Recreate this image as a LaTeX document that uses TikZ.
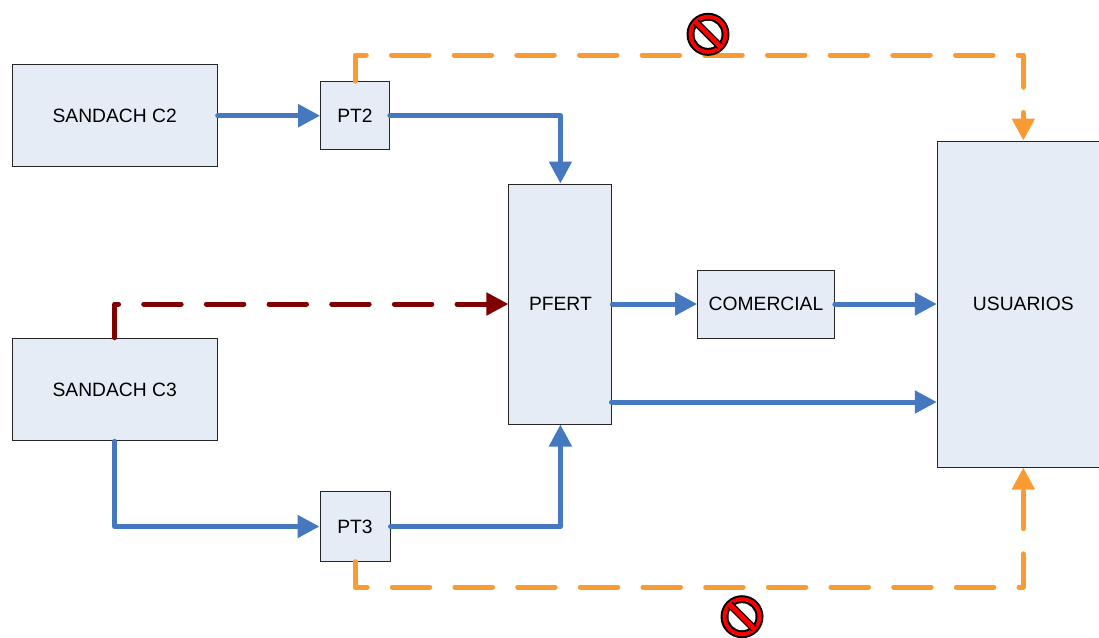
\documentclass[tikz,border=0pt]{standalone}
\usepackage{fontspec}
\setmainfont{Liberation Sans}
\usetikzlibrary{arrows.meta}

\definecolor{cajafondo}{RGB}{230,236,246}
\definecolor{azul}{RGB}{70,120,192}
\definecolor{naranja}{RGB}{250,154,51}
\definecolor{granate}{RGB}{128,0,0}

\tikzset{every picture/.style={line width=0.75pt}}
\tikzset{
	caja/.style={draw=black!85,fill=cajafondo,inner sep=0pt,font=\fontsize{14.45}{17}\selectfont},
	flujo/.style={line width=3.75pt,line cap=round,line join=round,-{Triangle[length=16.5pt,width=16.5pt]}},
	cortado/.style={flujo,dash pattern=on 28.1pt off 18.9pt},
	prohibido/.pic={
		\fill [black] (0,0) circle (21.5);
		\fill [red] (0,0) circle (19.5);
		\fill [black] (0,0) circle (15.5);
		\fill [white] (0,0) circle (13.5);
		\draw [black,line width=5.6pt] (-12,12) -- (12,-12);
		\draw [red,line width=3.6pt] (-13,13) -- (13,-13);
	}
}

\begin{document}
\begin{tikzpicture}[x=0.75pt,y=0.75pt,yscale=-1,xscale=1]
		\clip (0,0) rectangle (1099,637);

		% Boxes
		\node [caja,minimum width=153.75pt,minimum height=76.5pt] (sandachdos) at (114.7,115.7) {SANDACH C2};
		\node [caja,minimum width=153.75pt,minimum height=77pt] (sandachtres) at (114.7,389.5) {SANDACH C3};
		\node [caja,minimum width=51.5pt,minimum height=51pt] (ptdos) at (355,115.7) {PT2};
		\node [caja,minimum width=52.5pt,minimum height=52pt] (pttres) at (355,526.5) {PT3};
		\node [caja,minimum width=77.25pt,minimum height=180pt] (pfert) at (560.4,304) {PFERT};
		\node [caja,minimum width=102.5pt,minimum height=51pt] (comercial) at (766,304) {COMERCIAL};
		\node [caja,minimum width=129pt,minimum height=244.5pt] (usuarios) at (1023.3,304) {USUARIOS};

		% Free ends
		\coordinate (pfertsal) at (611.5,402);
		\coordinate (arriba) at (708,55);
		\coordinate (abajo) at (708,587);

		% Blue lines
		\draw [flujo,azul] (sandachdos) -- (ptdos);
		\draw [flujo,azul] (ptdos.east) -| (pfert.north);
		\draw [flujo,azul] (sandachtres.south) |- (pttres.west);
		\draw [flujo,azul] (pttres.east) -| (pfert.south);
		\draw [flujo,azul] (pfert.east) -- (comercial.west);
		\draw [flujo,azul] (comercial.east) -- (comercial.east -| usuarios.west);
		\draw [flujo,azul] (pfertsal) -- (pfertsal -| usuarios.west);

		% Dashed lines
		\draw [cortado,granate] (sandachtres.north) |- (pfert.west);
		\draw [cortado,naranja] (ptdos.north) |- (arriba) -| (usuarios.north);
		\draw [cortado,naranja] (pttres.south) |- (abajo) -| (usuarios.south);

		% Signs
		\pic at (708,34.3) {prohibido};
		\pic at (742,616.7) {prohibido};

\end{tikzpicture}
\end{document}
